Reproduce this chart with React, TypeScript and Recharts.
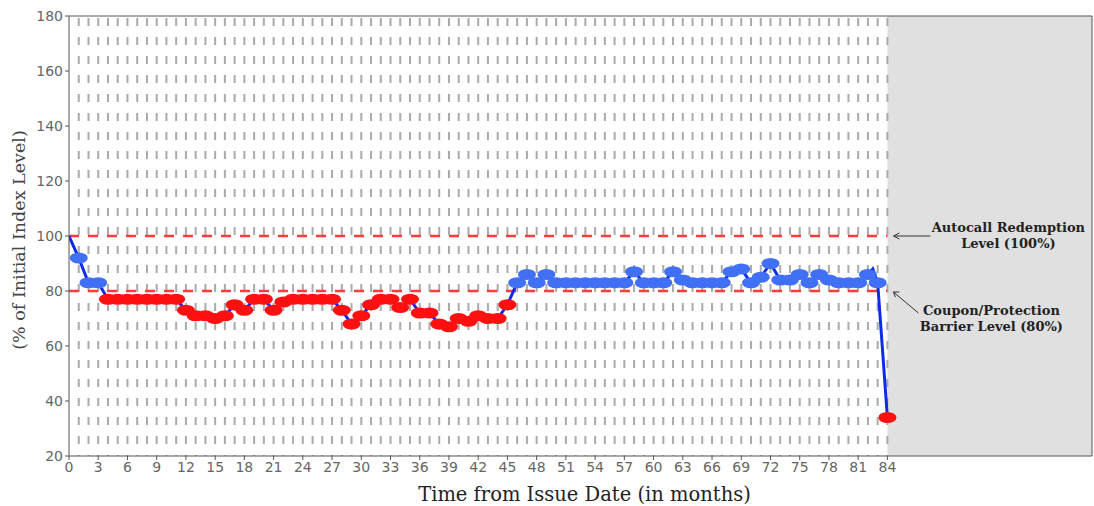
import { LineChart, Line, XAxis, YAxis, ReferenceLine, ReferenceArea } from "recharts"

// monthly observation of the index (% of initial level), months 0..84
const months = [
  0, 1, 2, 3, 4, 5, 6, 7, 8, 9, 10, 11, 12, 13, 14, 15, 16, 17, 18, 19, 20,
  21, 22, 23, 24, 25, 26, 27, 28, 29, 30, 31, 32, 33, 34, 35, 36, 37, 38, 39, 40,
  41, 42, 43, 44, 45, 46, 47, 48, 49, 50, 51, 52, 53, 54, 55, 56, 57, 58, 59, 60,
  61, 62, 63, 64, 65, 66, 67, 68, 69, 70, 71, 72, 73, 74, 75, 76, 77, 78, 79, 80,
  81, 82, 83, 84,
]
const indexLevel = [
  100, 92, 83, 83, 77, 77, 77, 77, 77, 77, 77, 77, 73, 71, 71, 70, 71, 75, 73, 77, 77,
  73, 76, 77, 77, 77, 77, 77, 73, 68, 71, 75, 77, 77, 74, 77, 72, 72, 68, 67, 70,
  69, 71, 70, 70, 75, 83, 86, 83, 86, 83, 83, 83, 83, 83, 83, 83, 83, 87, 83, 83,
  83, 87, 84, 83, 83, 83, 83, 87, 88, 83, 85, 90, 84, 84, 86, 83, 86, 84, 83, 83,
  83, 86, 83, 34,
]
// intra-month point on the path (no observation marker)
const extraMonths = [82.5]
const extraLevels = [88]

const xTicks = [0, 3, 6, 9, 12, 15, 18, 21, 24, 27, 30, 33, 36, 39, 42, 45, 48, 51, 54, 57, 60, 63, 66, 69, 72, 75, 78, 81, 84]
const yTicks = [20, 40, 60, 80, 100, 120, 140, 160, 180]

const autocallLevel = 100
const barrierLevel = 80
const lastMonth = 84
const xMax = 105
const yMin = 20
const yMax = 180

const chartData = [
  ...months.map((m, i) => ({ month: m, level: indexLevel[i], obs: m === 0 ? null : indexLevel[i] })),
  ...extraMonths.map((m, i) => ({ month: m, level: extraLevels[i], obs: null })),
].sort((a, b) => a.month - b.month)

const serif = "DejaVu Serif"
const sans = "DejaVu Sans"

const renderMarker = (props: any) => {
  const { cx, cy, payload, index } = props
  if (payload == null || payload.obs == null || cx == null || cy == null) return <g key={`m-${index}`} />
  const color = payload.obs >= barrierLevel ? "#3f70f5" : "#ff1010"
  return <ellipse key={`m-${index}`} cx={cx} cy={cy} rx={9} ry={5.5} fill={color} />
}

const noteText = { textAnchor: "middle" as const, fontFamily: serif, fontWeight: "bold", fontSize: 13, fill: "#222" }

const AutocallNote = (props: any) => {
  const { viewBox } = props
  const end = viewBox.x + viewBox.width
  const y = viewBox.y
  return (
    <g>
      <line x1={end + 43} y1={y} x2={end + 7} y2={y} stroke="#333" strokeWidth={1} />
      <polyline points={`${end + 12},${y - 3} ${end + 6},${y} ${end + 12},${y + 3}`} fill="none" stroke="#333" strokeWidth={1} />
      <text x={end + 121} y={y - 4} {...noteText}>
        Autocall Redemption
      </text>
      <text x={end + 121} y={y + 12} {...noteText}>
        Level (100%)
      </text>
    </g>
  )
}

const BarrierNote = (props: any) => {
  const { viewBox } = props
  const end = viewBox.x + viewBox.width
  const y = viewBox.y
  return (
    <g>
      <line x1={end + 31} y1={y + 22} x2={end + 6} y2={y + 1} stroke="#333" strokeWidth={1} />
      <polyline points={`${end + 8},${y + 6} ${end + 6},${y + 1} ${end + 12},${y + 1}`} fill="none" stroke="#333" strokeWidth={1} />
      <text x={end + 104} y={y + 24} {...noteText}>
        Coupon/Protection
      </text>
      <text x={end + 104} y={y + 40} {...noteText}>
        Barrier Level (80%)
      </text>
    </g>
  )
}

export default function App() {
  return (
    <div style={{ position: "absolute", left: 0, top: 0, background: "#fff" }}>
      <LineChart width={1094} height={506} data={chartData} margin={{ top: 16, right: 2, bottom: 0, left: 0 }}>
        <XAxis
          dataKey="month"
          type="number"
          domain={[0, xMax]}
          ticks={xTicks}
          interval={0}
          allowDataOverflow
          height={50}
          tickSize={4}
          stroke="#555"
          tick={{ fontSize: 14, fill: "#666", fontFamily: sans }}
          label={(p: any) => (
            <text x={p.viewBox.x + p.viewBox.width / 2 + 4} y={501} textAnchor="middle" fontFamily={serif} fontSize={19.5} fill="#222">
              Time from Issue Date (in months)
            </text>
          )}
        />
        <YAxis
          type="number"
          domain={[yMin, yMax]}
          ticks={yTicks}
          interval={0}
          allowDataOverflow
          width={69}
          tickSize={4}
          stroke="#555"
          tick={{ fontSize: 14, fill: "#666", fontFamily: sans }}
          label={(p: any) => {
            const cx = p.viewBox.x + 19
            const cy = p.viewBox.y + p.viewBox.height / 2 + 4
            return (
              <text x={cx} y={cy} dy="0.35em" transform={`rotate(-90, ${cx}, ${cy})`} textAnchor="middle" fontFamily={serif} fontSize={17.5} fill="#444">
                (% of Initial Index Level)
              </text>
            )
          }}
        />
        <ReferenceArea x1={lastMonth} x2={xMax} y1={yMin} y2={yMax} fill="#e0e0e0" fillOpacity={1} stroke="none" />
        <ReferenceLine y={yMax} stroke="#555" strokeWidth={1} />
        <ReferenceLine x={xMax} stroke="#555" strokeWidth={1} />
        {months.slice(1).map((m) => (
          <ReferenceLine
            key={`v-${m}`}
            segment={[{ x: m, y: yMax }, { x: m, y: yMin }]}
            stroke="#aaaaaa"
            strokeWidth={2}
            strokeDasharray="8 11"
            strokeDashoffset={-2}
          />
        ))}
        <ReferenceLine
          segment={[{ x: 0, y: autocallLevel }, { x: lastMonth, y: autocallLevel }]}
          stroke="#ff3b3b"
          strokeWidth={2.5}
          strokeDasharray="10 9"
          label={<AutocallNote />}
        />
        <ReferenceLine
          segment={[{ x: 0, y: barrierLevel }, { x: lastMonth, y: barrierLevel }]}
          stroke="#ff3b3b"
          strokeWidth={2.5}
          strokeDasharray="10 9"
          label={<BarrierNote />}
        />
        <Line dataKey="obs" stroke="none" dot={renderMarker} activeDot={false} isAnimationActive={false} />
        <Line dataKey="level" type="linear" stroke="#0d2be8" strokeWidth={3} dot={false} activeDot={false} isAnimationActive={false} />
      </LineChart>
    </div>
  )
}
